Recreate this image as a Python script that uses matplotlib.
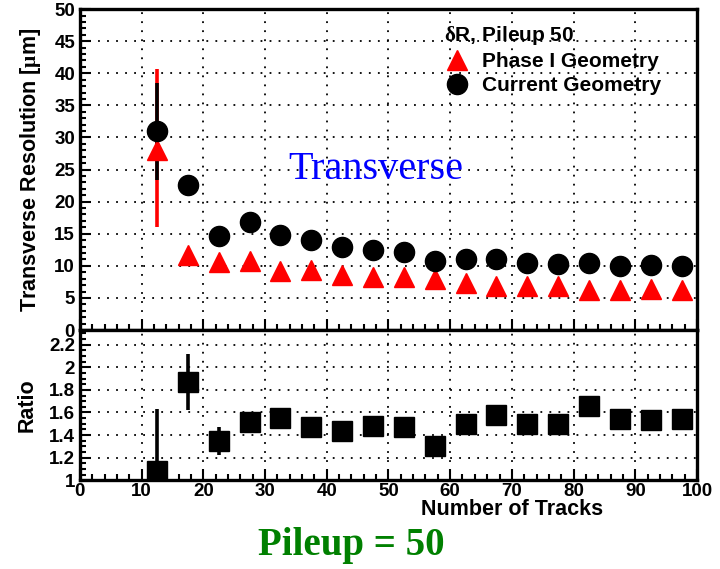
import numpy as np
import matplotlib
matplotlib.use("Agg")
import matplotlib.pyplot as plt
from matplotlib.ticker import MultipleLocator

plt.rcParams['font.family'] = ['Liberation Sans', 'DejaVu Sans']
plt.rcParams['font.weight'] = 'bold'
plt.rcParams['axes.labelweight'] = 'bold'
plt.rcParams['mathtext.fontset'] = 'custom'
plt.rcParams['mathtext.rm'] = 'Liberation Serif'
plt.rcParams['mathtext.it'] = 'Liberation Serif'

# data
tracks = [12.5, 17.5, 22.5, 27.5, 32.5, 37.5, 42.5, 47.5, 52.5,
          57.5, 62.5, 67.5, 72.5, 77.5, 82.5, 87.5, 92.5, 97.5]
current = [31.0, 22.6, 14.6, 16.8, 14.8, 14.0, 13.0, 12.5, 12.1,
           10.8, 11.1, 11.1, 10.5, 10.3, 10.5, 10.0, 10.1, 9.9]
current_lo = [7.6, 0.5, 0.4, 0.4, 0.3, 0.3, 0.3, 0.3, 0.3,
              0.3, 0.3, 0.3, 0.3, 0.3, 0.3, 0.3, 0.3, 0.3]
current_hi = [7.5, 0.5, 0.4, 0.4, 0.3, 0.3, 0.3, 0.3, 0.3,
              0.3, 0.3, 0.3, 0.3, 0.3, 0.3, 0.3, 0.3, 0.3]
phase1 = [28.0, 11.7, 10.6, 10.8, 9.2, 9.3, 8.6, 8.2, 8.2,
          7.9, 7.3, 6.9, 6.9, 6.8, 6.2, 6.3, 6.4, 6.3]
phase1_lo = [12.0, 0.5, 0.3, 0.3, 0.3, 0.3, 0.3, 0.3, 0.3,
             0.3, 0.3, 0.3, 0.3, 0.3, 0.3, 0.3, 0.3, 0.3]
phase1_hi = [12.6, 0.5, 0.3, 0.3, 0.3, 0.3, 0.3, 0.3, 0.3,
             0.3, 0.3, 0.3, 0.3, 0.3, 0.3, 0.3, 0.3, 0.3]
ratio = [1.08, 1.87, 1.35, 1.52, 1.55, 1.47, 1.44, 1.48, 1.47,
         1.30, 1.50, 1.58, 1.50, 1.50, 1.66, 1.54, 1.53, 1.54]
ratio_lo = [0.55, 0.25, 0.13, 0.05, 0.05, 0.05, 0.05, 0.05, 0.05,
            0.05, 0.05, 0.05, 0.05, 0.05, 0.05, 0.05, 0.05, 0.05]
ratio_hi = [0.55, 0.25, 0.12, 0.05, 0.05, 0.05, 0.05, 0.05, 0.05,
            0.05, 0.05, 0.05, 0.05, 0.05, 0.05, 0.05, 0.05, 0.05]
ratio_ticks = [1, 1.2, 1.4, 1.6, 1.8, 2.0, 2.2]
ratio_ticklabels = ['1', '1.2', '1.4', '1.6', '1.8', '2', '2.2']

fig = plt.figure(figsize=(7.2, 5.69), dpi=100)
ax = fig.add_axes([0.111, 0.420, 0.857, 0.564])
axr = fig.add_axes([0.111, 0.156, 0.857, 0.264])

def style(a):
    for s in a.spines.values():
        s.set_linewidth(2.4)
    a.grid(True, which='major', color='black', linestyle=(0, (1, 4)), linewidth=1.3)
    a.set_axisbelow(True)
    a.set_xlim(0, 100)
    a.xaxis.set_major_locator(MultipleLocator(10))
    a.xaxis.set_minor_locator(MultipleLocator(2))
    a.tick_params(which='both', direction='in', top=False, right=False,
                  labelsize=13.5, width=1.5)
    a.tick_params(which='major', length=8)
    a.tick_params(which='minor', length=4)

style(ax)
style(axr)

# upper panel
ax.errorbar(tracks, phase1, yerr=[phase1_lo, phase1_hi], fmt='none',
            ecolor='red', elinewidth=2.6, zorder=3)
ax.errorbar(tracks, current, yerr=[current_lo, current_hi], fmt='none',
            ecolor='black', elinewidth=2.6, zorder=4)
ax.plot(tracks, phase1, linestyle='none', marker='^', color='red',
        markersize=15, label='Phase I Geometry', zorder=5)
ax.plot(tracks, current, linestyle='none', marker='o', color='black',
        markersize=14.5, label='Current Geometry', zorder=6)
ax.set_ylim(0, 50)
ax.yaxis.set_major_locator(MultipleLocator(5))
ax.yaxis.set_minor_locator(MultipleLocator(1))
ax.tick_params(labelbottom=False)
ax.set_ylabel(r'Transverse Resolution [$\mathrm{\mu}$m]', fontsize=15.5,
              fontweight='bold', labelpad=8)

leg = ax.legend(title=r'$\mathrm{\delta}$R, Pileup 50', loc='upper left',
                bbox_to_anchor=(0.567, 1.0), frameon=False, fontsize=15,
                title_fontproperties={'size': 15, 'weight': 'bold'},
                handletextpad=0.6, labelspacing=0.25, borderaxespad=0.3,
                handlelength=1.2, markerscale=1.0)
leg._legend_box.align = 'left'
for t in leg.get_texts():
    t.set_fontweight('bold')

ax.text(0.48, 0.50, 'Transverse', transform=ax.transAxes, color='blue',
        fontsize=29, fontweight='normal', family='Liberation Serif',
        ha='center', va='center')

# ratio panel
axr.errorbar(tracks, ratio, yerr=[ratio_lo, ratio_hi], fmt='s', color='black',
             ecolor='black', elinewidth=2.6, markersize=14.5, zorder=5)
axr.set_ylim(1, 2.33)
axr.yaxis.set_minor_locator(MultipleLocator(0.05))
axr.set_yticks(ratio_ticks)
axr.set_yticklabels(ratio_ticklabels)
axr.set_ylabel('Ratio', fontsize=15.5, fontweight='bold', labelpad=8)
axr.set_xlabel('Number of Tracks', fontsize=15.5, fontweight='bold',
               ha='right', x=0.848, labelpad=-1)
axr.tick_params(axis='x', pad=2)

for a in (ax, axr):
    for lbl in a.get_xticklabels() + a.get_yticklabels():
        lbl.set_fontweight('bold')

fig.text(0.488, 0.042, 'Pileup = 50', color='#008000', fontsize=28,
         fontweight='bold', family='Liberation Serif', ha='center', va='center')

fig.savefig('out.png', dpi=100)
